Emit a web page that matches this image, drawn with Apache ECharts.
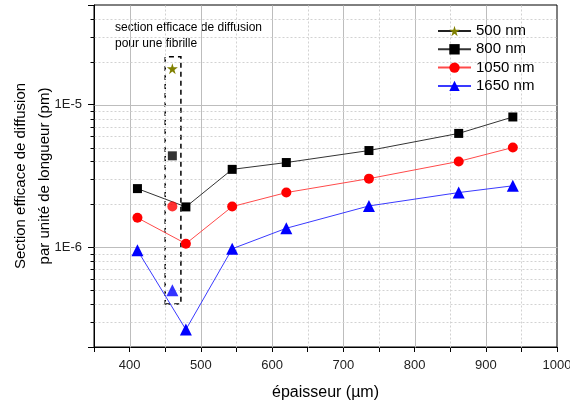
<!DOCTYPE html>
<html>
<head>
<meta charset="utf-8">
<script src="https://cdn.jsdelivr.net/npm/echarts@6/dist/echarts.min.js"></script>
<style>
html,body{margin:0;padding:0;background:#fff}
#main{width:570px;height:401px}
</style>
</head>
<body>
<div id="main"></div>
<script>
// épaisseur (µm) des films
var thickness = [411, 479, 544, 620, 736, 862, 938];
// point "fibrille" (encadré)
var fibrilleX = 460;

// section efficace de diffusion (pm) par longueur d'onde
var s800 = [2.58e-6, 1.92e-6, 3.52e-6, 3.93e-6, 4.77e-6, 6.29e-6, 8.2e-6];
var s1050 = [1.61e-6, 1.06e-6, 1.93e-6, 2.42e-6, 3.03e-6, 4.0e-6, 5.01e-6];
var s1650 = [0.953e-6, 0.265e-6, 0.977e-6, 1.36e-6, 1.95e-6, 2.42e-6, 2.7e-6];

// fibrille seule
var f500 = 1.79e-5;
var f800 = 4.38e-6;
var f1050 = 1.93e-6;
var f1650 = 5.0e-7;

// cadre pointillé autour des points fibrille
var boxX = [450, 472];
var boxY = [4.0e-7, 2.17e-5];

// axes
var xMin = 350, xMax = 1000;
var yMin = 2e-7, yMax = 5e-5;
var xMajor = [400, 500, 600, 700, 800, 900];
var xMinor = [450, 550, 650, 750, 850, 950];
var yMajor = [1e-6, 1e-5];
var yMinor = [3e-7, 4e-7, 5e-7, 6e-7, 7e-7, 8e-7, 9e-7,
  2e-6, 3e-6, 4e-6, 5e-6, 6e-6, 7e-6, 8e-6, 9e-6,
  2e-5, 3e-5, 4e-5];

var legendNames = ["500 nm", "800 nm", "1050 nm", "1650 nm"];

function pairs(xs, ys) {
  return xs.map(function (x, i) { return [x, ys[i]]; });
}

// lignes de grille : [x1, y1, x2, y2, type]  (0 majeur, 1 mineur, 2 graduation)
var gridData = [];
xMajor.forEach(function (x) { gridData.push([x, yMin, x, yMax, 0]); });
xMinor.forEach(function (x) { gridData.push([x, yMin, x, yMax, 1]); });
yMajor.forEach(function (y) { gridData.push([xMin, y, xMax, y, 0]); });
yMinor.forEach(function (y) {
  gridData.push([xMin, y, xMax, y, 1]);
  gridData.push([xMin, y, xMin, y, 2]);
});

function renderGrid(params, api) {
  var kind = api.value(4);
  var p1 = api.coord([api.value(0), api.value(1)]);
  var p2 = api.coord([api.value(2), api.value(3)]);
  var x1 = Math.round(p1[0]) + 0.5, y1 = Math.round(p1[1]) + 0.5;
  var x2 = Math.round(p2[0]) + 0.5, y2 = Math.round(p2[1]) + 0.5;
  if (kind === 2) {
    return { type: "line", shape: { x1: x1 - 4, y1: y1, x2: x1, y2: y1 }, style: { stroke: "#000", lineWidth: 1 } };
  }
  return {
    type: "line",
    shape: { x1: x1, y1: y1, x2: x2, y2: y2 },
    style: { stroke: kind === 0 ? "#bdbdbd" : "#d2d2d2", lineWidth: 1, lineDash: kind === 0 ? null : [2, 2] }
  };
}

var font = "'Liberation Sans', Arial, sans-serif";
var star = "path://M50,0 L61,35 L98,35 L68,57 L79,91 L50,70 L21,91 L32,57 L2,35 L39,35 Z";

var myChart = echarts.init(document.getElementById("main"));
myChart.setOption({
  animation: false,
  grid: {
    left: 94, right: 13, top: 5, bottom: 54,
    outerBoundsMode: "none",
    containLabel: false,
    show: true, borderColor: "#000", borderWidth: 1
  },
  legend: {
    data: legendNames,
    orient: "vertical",
    left: 437,
    top: 23.5,
    padding: 0,
    itemWidth: 33,
    itemHeight: 13,
    itemGap: 3.3,
    textStyle: { fontSize: 15, color: "#000", fontFamily: font }
  },
  graphic: [{
    type: "text",
    left: 115,
    top: 20,
    style: {
      text: "section efficace de diffusion\npour une fibrille",
      font: "12px " + font,
      fill: "#000",
      lineHeight: 16
    }
  }],
  xAxis: {
    type: "value",
    min: xMin,
    max: xMax,
    interval: 50,
    name: "épaisseur (µm)",
    nameLocation: "middle",
    nameGap: 38,
    nameMoveOverlap: false,
    nameTextStyle: { fontSize: 16, color: "#000", fontFamily: font },
    axisLine: { lineStyle: { color: "#000", width: 1 } },
    axisTick: { length: 5, lineStyle: { color: "#000" } },
    axisLabel: {
      margin: 12,
      fontSize: 13,
      color: "#222",
      fontFamily: font,
      hideOverlap: false,
      formatter: function (v) { return v % 100 === 0 && v > xMin ? String(v) : ""; }
    },
    splitLine: { show: false }
  },
  yAxis: {
    type: "log",
    min: yMin,
    max: yMax,
    name: "Section efficace de diffusion\npar unité de longueur (pm)",
    nameLocation: "middle",
    nameRotate: 90,
    nameGap: 37,
    nameMoveOverlap: false,
    nameTextStyle: { fontSize: 15, color: "#000", fontFamily: font, lineHeight: 24 },
    axisLine: { show: true, lineStyle: { color: "#000", width: 1 } },
    axisTick: { show: true, length: 6, lineStyle: { color: "#000" } },
    axisLabel: {
      margin: 12,
      fontSize: 13,
      color: "#222",
      fontFamily: font,
      formatter: function (v) {
        var e = Math.log10(v);
        if (Math.abs(e - Math.round(e)) > 1e-6) return "";
        return "1E" + Math.round(e);
      }
    },
    splitLine: { show: false }
  },
  series: [
    {
      name: "grid",
      type: "custom",
      silent: true,
      z: 1,
      clip: false,
      renderItem: renderGrid,
      encode: { x: [0, 2], y: [1, 3] },
      data: gridData
    },
    {
      name: "500 nm",
      type: "line",
      z: 5,
      data: [[fibrilleX, f500]],
      symbol: star,
      symbolSize: 11,
      itemStyle: { color: "#808000" },
      lineStyle: { color: "#222", width: 1 }
    },
    {
      name: "800 nm",
      type: "line",
      z: 5,
      data: pairs(thickness, s800),
      symbol: "rect",
      symbolSize: 9,
      itemStyle: { color: "#000" },
      lineStyle: { color: "#333", width: 1 }
    },
    {
      name: "1050 nm",
      type: "line",
      z: 5,
      data: pairs(thickness, s1050),
      symbol: "circle",
      symbolSize: 10,
      itemStyle: { color: "#ff0000" },
      lineStyle: { color: "#ff4a4a", width: 1 }
    },
    {
      name: "1650 nm",
      type: "line",
      z: 5,
      data: pairs(thickness, s1650),
      symbol: "triangle",
      symbolSize: 12,
      itemStyle: { color: "#0000ff" },
      lineStyle: { color: "#3a3aff", width: 1 }
    },
    {
      name: "800 nm",
      type: "scatter",
      z: 5,
      data: [[fibrilleX, f800]],
      symbol: "rect",
      symbolSize: 9,
      itemStyle: { color: "#000" },
      markArea: {
        silent: true,
        itemStyle: { color: "rgba(0,0,0,0)", borderColor: "#000", borderWidth: 1.5, borderType: [5, 4] },
        data: [[{ coord: [boxX[0], boxY[0]] }, { coord: [boxX[1], boxY[1]] }]]
      }
    },
    {
      name: "1050 nm",
      type: "scatter",
      z: 5,
      data: [[fibrilleX, f1050]],
      symbol: "circle",
      symbolSize: 10,
      itemStyle: { color: "#ff0000" }
    },
    {
      name: "1650 nm",
      type: "scatter",
      z: 5,
      data: [[fibrilleX, f1650]],
      symbol: "triangle",
      symbolSize: 12,
      itemStyle: { color: "#0000ff" }
    }
  ]
});
</script>
</body>
</html>
